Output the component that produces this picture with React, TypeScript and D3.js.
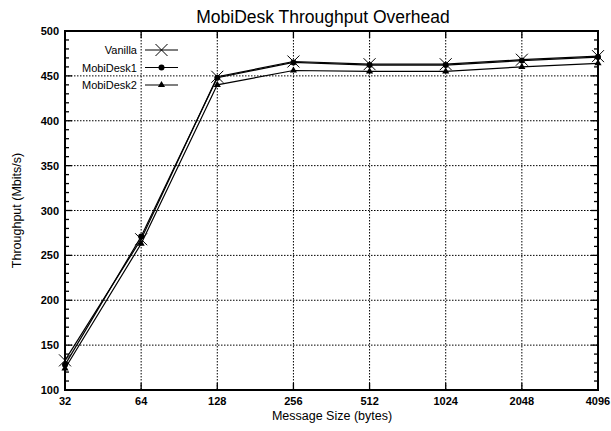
import React from "react";
import * as d3 from "d3";

const sizes = [32, 64, 128, 256, 512, 1024, 2048, 4096];
const vanilla = [133, 268, 449, 466, 463, 463, 468, 472];
const mobiDesk1 = [128, 271, 448, 465, 462, 462, 467, 471];
const mobiDesk2 = [124, 263, 440, 456, 455, 455, 460, 464];
const yTicks = [100, 150, 200, 250, 300, 350, 400, 450, 500];

const seriesList = [
  { name: "Vanilla", values: vanilla, mark: "cross" },
  { name: "MobiDesk1", values: mobiDesk1, mark: "circle" },
  { name: "MobiDesk2", values: mobiDesk2, mark: "triangle" },
];

const W = 611,
  H = 431;
const left = 65,
  right = 598,
  top = 31,
  bottom = 390;

const font = "Liberation Sans, Arial, Helvetica, sans-serif";

function Marker({ kind, x, y }: { kind: string; x: number; y: number }) {
  if (kind === "cross") {
    const s = 6;
    return (
      <path
        d={`M${x - s},${y - s}L${x + s},${y + s}M${x - s},${y + s}L${x + s},${y - s}`}
        stroke="#000"
        strokeWidth={1}
      />
    );
  }
  if (kind === "circle") return <circle cx={x} cy={y} r={3} fill="#000" />;
  const t = d3.symbol().type(d3.symbolTriangle).size(22)();
  return <path d={t || ""} transform={`translate(${x},${y})`} fill="#000" />;
}

export default function App() {
  const x = d3
    .scaleLog()
    .base(2)
    .domain([32, 4096])
    .range([left, right]);
  const y = d3.scaleLinear().domain([100, 500]).range([bottom, top]);
  const line = d3
    .line<number>()
    .x((_, i) => x(sizes[i]))
    .y((d) => y(d));

  const minor = d3.range(100, 501, 10);

  return (
    <svg width={W} height={H} style={{ position: "absolute", left: 0, top: 0, background: "#fff" }}>
      <text x={323} y={23} textAnchor="middle" fontFamily={font} fontSize={17.5}>
        MobiDesk Throughput Overhead
      </text>

      {/* grid */}
      {yTicks.slice(1, -1).map((t) => (
        <line key={"gy" + t} x1={left} x2={right} y1={y(t)} y2={y(t)} stroke="#000" strokeWidth={1} strokeDasharray="1.5,1.5" />
      ))}
      {sizes.slice(1, -1).map((s) => (
        <line key={"gx" + s} x1={x(s)} x2={x(s)} y1={top} y2={bottom} stroke="#000" strokeWidth={1} strokeDasharray="1.5,1.5" />
      ))}

      {/* ticks */}
      {minor.map((t) => {
        const len = t % 50 === 0 ? 7 : 4;
        return (
          <g key={"my" + t}>
            <line x1={left} x2={left + len} y1={y(t)} y2={y(t)} stroke="#000" strokeWidth={1.3} />
            <line x1={right} x2={right - len} y1={y(t)} y2={y(t)} stroke="#000" strokeWidth={1.3} />
          </g>
        );
      })}
      {sizes.map((s) => (
        <g key={"tx" + s}>
          <line x1={x(s)} x2={x(s)} y1={bottom} y2={bottom - 7} stroke="#000" strokeWidth={1.3} />
          <line x1={x(s)} x2={x(s)} y1={top} y2={top + 7} stroke="#000" strokeWidth={1.3} />
          <text x={x(s)} y={bottom + 15} textAnchor="middle" fontFamily={font} fontSize={11} fontWeight="bold">
            {s}
          </text>
        </g>
      ))}
      {yTicks.map((t) => (
        <text key={"ly" + t} x={left - 6} y={y(t) + 4} textAnchor="end" fontFamily={font} fontSize={11} fontWeight="bold">
          {t}
        </text>
      ))}

      <rect x={left} y={top} width={right - left} height={bottom - top} fill="none" stroke="#000" strokeWidth={2} />

      {/* series */}
      {seriesList.map((s) => (
        <g key={s.name}>
          <path d={line(s.values) || ""} fill="none" stroke="#000" strokeWidth={1.2} />
          {s.values.map((v, i) => (
            <Marker key={i} kind={s.mark} x={x(sizes[i])} y={y(v)} />
          ))}
        </g>
      ))}

      {/* legend */}
      {seriesList.map((s, i) => {
        const ly = 50 + i * 17.5;
        return (
          <g key={"lg" + s.name}>
            <text x={137} y={ly + 4} textAnchor="end" fontFamily={font} fontSize={11}>
              {s.name}
            </text>
            <line x1={145} x2={178} y1={ly} y2={ly} stroke="#000" strokeWidth={1.2} />
            <Marker kind={s.mark} x={161.5} y={ly} />
          </g>
        );
      })}

      <text x={332} y={420} textAnchor="middle" fontFamily={font} fontSize={12.5}>
        Message Size (bytes)
      </text>
      <text
        transform={`translate(21,${(top + bottom) / 2}) rotate(-90)`}
        textAnchor="middle"
        fontFamily={font}
        fontSize={12.5}
      >
        Throughput (Mbits/s)
      </text>
    </svg>
  );
}
